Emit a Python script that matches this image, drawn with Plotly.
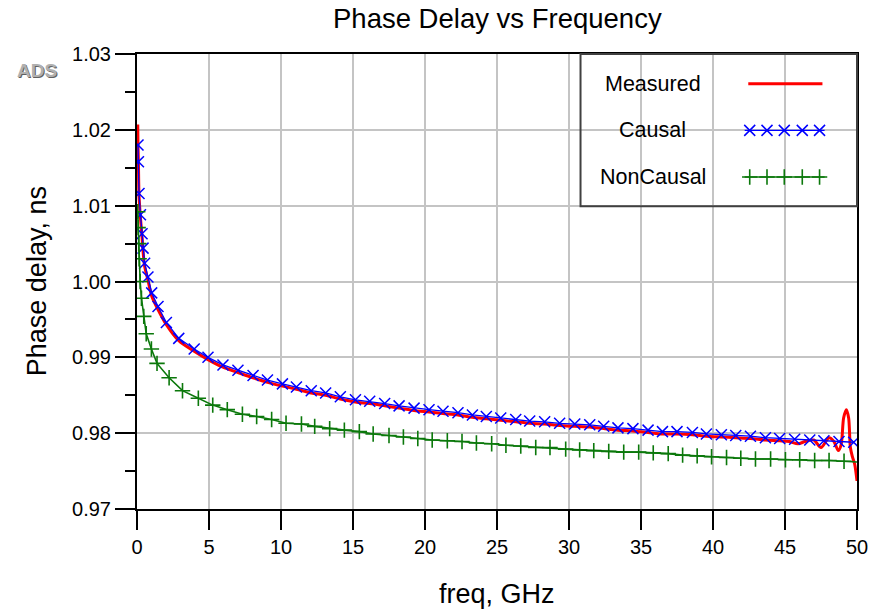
import plotly.graph_objects as go

# ---------------- data ----------------
meas_f = [0.05, 0.07, 0.1, 0.14, 0.24, 0.35, 0.42, 0.53, 0.76, 1.02, 1.46, 2.04, 2.9, 3.97,
          4.93, 5.97, 7.01, 8.06, 9.06, 10.1, 11.07, 12.1, 13.1, 14.12, 15.17, 16.16, 17.2,
          18.2, 19.24, 20.28, 21.25, 22.29, 23.29, 24.26, 25.26, 26.3, 27.27, 28.31, 29.35,
          30.4, 31.44, 32.41, 33.4, 34.44, 35.49, 36.49, 37.5, 38.57, 39.54, 40.58, 41.58,
          42.6, 43.64, 44.63, 45.3, 45.9, 46.4, 47.0, 47.5, 48.06, 48.4, 48.7, 48.9, 49.07,
          49.26, 49.42, 49.54, 49.68, 49.84, 50.0]
meas_v = [1.0207, 1.0178, 1.0155, 1.0113, 1.0084, 1.0059, 1.0040, 1.0020, 1.0002, 0.9981,
          0.9963, 0.9943, 0.9922, 0.9908, 0.9897, 0.9887, 0.9880, 0.9873, 0.9867, 0.9862,
          0.9858, 0.9853, 0.9850, 0.9845, 0.9841, 0.9839, 0.9836, 0.9833, 0.9830, 0.9828,
          0.9826, 0.9824, 0.9821, 0.9819, 0.9817, 0.9815, 0.9813, 0.9812, 0.9810, 0.9809,
          0.9808, 0.9806, 0.9804, 0.9803, 0.9801, 0.9799, 0.9799, 0.9798, 0.9796, 0.9795,
          0.9794, 0.9793, 0.9791, 0.9790, 0.9789, 0.9786, 0.9789, 0.9791, 0.9781, 0.9794,
          0.9789, 0.9777, 0.9785, 0.9820, 0.9831, 0.9820, 0.9781, 0.9769, 0.9759, 0.9737]

causal_f = [0.07, 0.1, 0.14, 0.24, 0.35, 0.42, 0.53, 0.76, 1.02, 1.46, 2.04, 2.9, 3.97,
            4.93, 5.97, 7.01, 8.06, 9.06, 10.1, 11.07, 12.1, 13.1, 14.12, 15.17, 16.16, 17.2,
            18.2, 19.24, 20.28, 21.25, 22.29, 23.29, 24.26, 25.26, 26.3, 27.27, 28.31, 29.35,
            30.4, 31.44, 32.41, 33.4, 34.44, 35.49, 36.49, 37.5, 38.57, 39.54, 40.58, 41.58,
            42.6, 43.64, 44.63, 45.67, 46.72, 47.7, 48.75, 49.77]
causal_v = [1.0180, 1.0158, 1.0116, 1.0088, 1.0063, 1.0044, 1.0024, 1.0006, 0.9985, 0.9967,
            0.9946, 0.9925, 0.9911, 0.9900, 0.9890, 0.9883, 0.9876, 0.9870, 0.9865, 0.9861,
            0.9856, 0.9853, 0.9848, 0.9844, 0.9842, 0.9839, 0.9836, 0.9833, 0.9831, 0.9829,
            0.9827, 0.9824, 0.9822, 0.9820, 0.9818, 0.9816, 0.9815, 0.9813, 0.9812, 0.9811,
            0.9809, 0.9807, 0.9806, 0.9804, 0.9802, 0.9802, 0.9801, 0.9799, 0.9798, 0.9797,
            0.9796, 0.9794, 0.9793, 0.9792, 0.9791, 0.9790, 0.9789, 0.9788]

noncausal_f = [0.05, 0.08, 0.12, 0.15, 0.22, 0.31, 0.47, 0.64, 1.0, 1.39, 2.23, 3.16, 4.26,
               5.26, 6.27, 7.32, 8.31, 9.35, 10.35, 11.42, 12.34, 13.38, 14.4, 15.44, 16.4,
               17.5, 18.5, 19.5, 20.5, 21.55, 22.57, 23.57, 24.63, 25.62, 26.65, 27.69, 28.68,
               29.77, 30.74, 31.72, 32.76, 33.8, 34.84, 35.85, 36.89, 37.89, 38.9, 39.9, 40.94,
               41.93, 42.95, 44.0, 45.03, 46.02, 47.06, 48.06, 49.1]
noncausal_v = [1.0092, 1.0071, 1.0050, 1.0030, 1.0000, 0.9978, 0.9954, 0.9931, 0.9911, 0.9892,
               0.9873, 0.9856, 0.9846, 0.9837, 0.9831, 0.9825, 0.9822, 0.9818, 0.9813, 0.9812,
               0.9809, 0.9806, 0.9804, 0.9802, 0.9799, 0.9797, 0.9795, 0.9793, 0.9791, 0.9790,
               0.9789, 0.9787, 0.9786, 0.9784, 0.9783, 0.9781, 0.9781, 0.9779, 0.9778, 0.9777,
               0.9776, 0.9775, 0.9775, 0.9774, 0.9773, 0.9771, 0.9770, 0.9769, 0.9768, 0.9767,
               0.9766, 0.9766, 0.9765, 0.9765, 0.9764, 0.9764, 0.9763]
noncausal_end_f = [49.1, 50.0]
noncausal_end_v = [0.9763, 0.9762]

series_names = ["Measured", "Causal", "NonCausal"]
x_ticks = [0, 5, 10, 15, 20, 25, 30, 35, 40, 45, 50]
y_ticks = [0.97, 0.98, 0.99, 1.00, 1.01, 1.02, 1.03]

# ---------------- style ----------------
FONT = "Liberation Sans, Arial, sans-serif"
RED = "#ff0000"
BLUE = "#0000ff"
GREEN = "#0b780b"
GRID = "#c4c4c4"

fig = go.Figure()
fig.add_trace(go.Scatter(x=meas_f, y=meas_v, mode="lines", name=series_names[0],
                         line=dict(color=RED, width=3, shape="spline", smoothing=0.8),
                         showlegend=False))
fig.add_trace(go.Scatter(x=causal_f, y=causal_v, mode="lines+markers", name=series_names[1],
                         line=dict(color=BLUE, width=1.3),
                         marker=dict(symbol="x-thin", size=11,
                                     line=dict(color=BLUE, width=1.5)),
                         showlegend=False))
fig.add_trace(go.Scatter(x=noncausal_f + noncausal_end_f[1:], y=noncausal_v + noncausal_end_v[1:],
                         mode="lines", line=dict(color=GREEN, width=1.6), showlegend=False,
                         hoverinfo="skip"))
fig.add_trace(go.Scatter(x=noncausal_f, y=noncausal_v, mode="markers", name=series_names[2],
                         marker=dict(symbol="cross-thin", size=11,
                                     line=dict(color=GREEN, width=1.6)),
                         showlegend=False))

# ---------------- custom legend (overlay axes 0..1) ----------------
L = dict(x0=0.844, x1=0.955)
leg_y = [0.9346, 0.8322, 0.7298]
mk_x = [0.851, 0.875, 0.899, 0.924, 0.948]
fig.add_trace(go.Scatter(x=[0.849, 0.952], y=[leg_y[0]] * 2, xaxis="x2", yaxis="y2",
                         mode="lines", line=dict(color=RED, width=3), showlegend=False,
                         hoverinfo="skip"))
fig.add_trace(go.Scatter(x=[L["x0"], L["x1"]], y=[leg_y[1]] * 2, xaxis="x2", yaxis="y2",
                         mode="lines", line=dict(color=BLUE, width=1.3), showlegend=False,
                         hoverinfo="skip"))
fig.add_trace(go.Scatter(x=mk_x, y=[leg_y[1]] * 5, xaxis="x2", yaxis="y2", mode="markers",
                         marker=dict(symbol="x-thin", size=11, line=dict(color=BLUE, width=1.5)),
                         showlegend=False, hoverinfo="skip"))
fig.add_trace(go.Scatter(x=[L["x0"], L["x1"]], y=[leg_y[2]] * 2, xaxis="x2", yaxis="y2",
                         mode="lines", line=dict(color=GREEN, width=1.6), showlegend=False,
                         hoverinfo="skip"))
fig.add_trace(go.Scatter(x=mk_x, y=[leg_y[2]] * 5, xaxis="x2", yaxis="y2", mode="markers",
                         marker=dict(symbol="cross-thin", size=11, line=dict(color=GREEN, width=1.6)),
                         showlegend=False, hoverinfo="skip"))

annotations = []
for name, yy in zip(series_names, leg_y):
    annotations.append(dict(text=name, xref="paper", yref="paper", x=0.716, y=yy,
                            xanchor="center", yanchor="middle", showarrow=False,
                            font=dict(family=FONT, size=21.5, color="black")))
# title & axis titles
annotations.append(dict(text="Phase Delay vs Frequency", xref="paper", yref="paper",
                        x=0.5, y=1.0 + (53.5 - 18) / 456, xanchor="center", yanchor="middle",
                        showarrow=False, font=dict(family=FONT, size=27.5, color="black")))
annotations.append(dict(text="freq, GHz", xref="paper", yref="paper",
                        x=0.5, y=-(595 - 509.5) / 456, xanchor="center", yanchor="middle",
                        showarrow=False, font=dict(family=FONT, size=27, color="black")))
annotations.append(dict(text="Phase delay, ns", xref="paper", yref="paper", textangle=-90,
                        x=(37 - 137.3) / 720, y=0.5, xanchor="center", yanchor="middle",
                        showarrow=False, font=dict(family=FONT, size=27, color="black")))
annotations.append(dict(text="<b>ADS</b>", xref="paper", yref="paper",
                        x=(37 - 137.3) / 720, y=(509.5 - 70) / 456, xanchor="center",
                        yanchor="middle", showarrow=False,
                        font=dict(family=FONT, size=19, color="#b0b0b0",
                                  shadow="1px 1px 0px #606060")))

fig.update_layout(
    width=875, height=611,
    margin=dict(l=137.3, r=17.7, t=53.5, b=101.5, autoexpand=False),
    paper_bgcolor="white", plot_bgcolor="white",
    showlegend=False,
    annotations=annotations,
    shapes=[dict(type="rect", xref="paper", yref="paper", x0=0.616, x1=1.0,
                 y0=0.6656, y1=1.0, line=dict(color="#404040", width=2),
                 fillcolor="rgba(0,0,0,0)")],
    xaxis=dict(range=[0, 50], tickvals=x_ticks, ticktext=[str(v) for v in x_ticks],
               showgrid=True, gridcolor=GRID, gridwidth=1.5, automargin=False,
               showline=True, linecolor="black", linewidth=2, mirror=True,
               ticks="outside", ticklen=19, tickwidth=2, tickcolor="black",
               tickfont=dict(family=FONT, size=20, color="black"), zeroline=False),
    yaxis=dict(range=[0.97, 1.03], tickvals=y_ticks, ticktext=[f"{v:.2f}" for v in y_ticks],
               showgrid=True, gridcolor=GRID, gridwidth=1.5, automargin=False,
               showline=True, linecolor="black", linewidth=2, mirror=True,
               ticks="outside", ticklen=20, tickwidth=2, tickcolor="black",
               minor=dict(dtick=0.005, tick0=0.97, ticks="outside", ticklen=10, tickwidth=2,
                          tickcolor="black", showgrid=False),
               tickfont=dict(family=FONT, size=20, color="black"), zeroline=False),
    xaxis2=dict(range=[0, 1], overlaying="x", visible=False),
    yaxis2=dict(range=[0, 1], overlaying="y", visible=False),
)

fig.write_html("out.html")
